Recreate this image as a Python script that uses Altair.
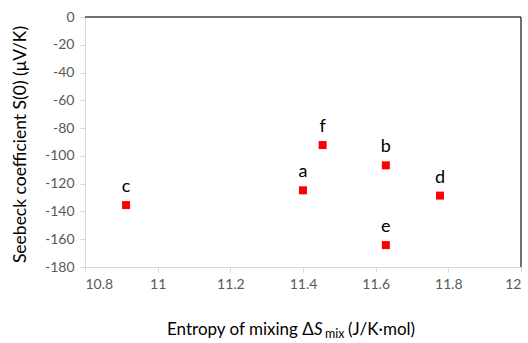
import altair as alt
import pandas as pd

# Samples: configurational entropy of mixing vs. low-temperature Seebeck coefficient
samples = ["a", "b", "c", "d", "e", "f"]
entropy = [11.40, 11.628, 10.913, 11.777, 11.628, 11.454]
seebeck = [-124.8, -106.8, -135.4, -128.6, -164.2, -92.2]
x_ticks = [10.8, 11.0, 11.2, 11.4, 11.6, 11.8, 12.0]
y_ticks = [0, -20, -40, -60, -80, -100, -120, -140, -160, -180]

df = pd.DataFrame({"sample": samples, "dS": entropy, "S0": seebeck})

FONT = "Lato"
W, H = 436, 250

xscale = alt.Scale(domain=[10.8, 12.0], nice=False, zero=False)
yscale = alt.Scale(domain=[-180, 0], nice=False, zero=False)

x_axis = alt.Axis(
    values=x_ticks,
    format="~g",
    grid=False,
    domainColor="#d9d9d9",
    tickColor="#d9d9d9",
    tickSize=5,
    labelColor="#595959",
    labelFont=FONT,
    labelFontSize=14,
    labelPadding=5,
    labelOverlap=False,
    title=None,
)
y_axis = alt.Axis(
    values=y_ticks,
    grid=False,
    domainColor="#d9d9d9",
    tickColor="#d9d9d9",
    tickSize=5,
    labelColor="#595959",
    labelFont=FONT,
    labelFontSize=14,
    labelPadding=6,
    labelOverlap=False,
    labelBound=False,
    labelExpr="replace(datum.label, '\u2212', '-')",
    title="Seebeck coefficient S(0) (μV/K)",
    titleFont=FONT,
    titleFontSize=17.5,
    titleFontWeight="normal",
    titleColor="#000000",
    titleX=-65,
    titleY=H / 2 + 2,
    titleAngle=270,
    titleBaseline="middle",
    titleAlign="center",
)

enc_x = alt.X("dS:Q", scale=xscale, axis=x_axis)
enc_y = alt.Y("S0:Q", scale=yscale, axis=y_axis)

base = alt.Chart(df)

points = base.mark_square(size=64, color="#ff0000", opacity=1).encode(x=enc_x, y=enc_y)

labels = base.mark_text(
    font=FONT, fontSize=18, color="#000000", dy=-18, baseline="middle"
).encode(x=enc_x, y=enc_y, text="sample:N")

# dark frame lines along the top (zero line) and the right edge of the plot
frame = alt.Chart(pd.DataFrame({"k": [0]}))
top_line = frame.mark_rule(color="#404040", strokeWidth=1.5).encode(
    x=alt.value(0), x2=alt.value(W), y=alt.value(0)
)
right_line = frame.mark_rule(color="#404040", strokeWidth=1.5).encode(
    x=alt.value(W), y=alt.value(0), y2=alt.value(H)
)

# x-axis title with italic S and subscript "mix"
title_parts = [
    ("Entropy of mixing Δ", 82, 318, 17, "normal"),
    ("S", 229, 318, 17, "italic"),
    ("mix", 240, 321, 12.5, "normal"),
    ("(J/K·mol)", 263, 318, 17, "normal"),
]
xtitle = [
    alt.Chart(pd.DataFrame({"t": [t]})).mark_text(
        font=FONT, fontSize=fs, fontStyle=st, align="left", baseline="alphabetic",
        color="#000000",
    ).encode(x=alt.value(px), y=alt.value(py), text="t:N")
    for t, px, py, fs, st in title_parts
]

chart = (
    alt.layer(points, labels, top_line, right_line, *xtitle)
    .properties(
        width=W,
        height=H,
        padding={"left": 85, "top": 17, "right": 7, "bottom": 76},
        autosize="none",
        background="white",
    )
    .configure_view(stroke=None)
    .configure_axis(labelOverlap=False)
)

chart.save("out.html", embed_options={"renderer": "svg", "actions": False})
